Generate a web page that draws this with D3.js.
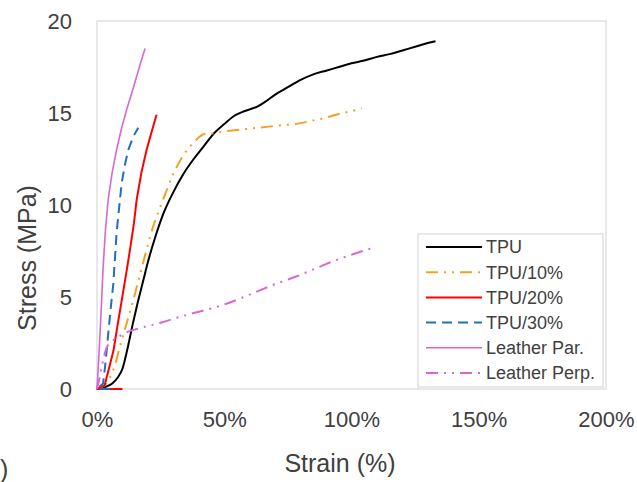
<!DOCTYPE html>
<html>
<head>
<meta charset="utf-8">
<script src="https://cdn.jsdelivr.net/npm/d3@7"></script>
<style>
  html, body { margin: 0; padding: 0; background: #fff; }
  svg { display: block; }
  text { font-family: "Liberation Sans", Arial, sans-serif; fill: #404040; }
</style>
</head>
<body>
<svg id="chart" width="637" height="482"></svg>
<script>
// ---- data (strain %, stress MPa) ----
const seriesNames = ["TPU", "TPU/10%", "TPU/20%", "TPU/30%", "Leather Par.", "Leather Perp."];

const tpuStrain   = [0, 3, 6, 8, 10, 12, 14, 16, 18, 20, 23, 26, 30, 34, 38, 42, 46, 50, 54, 57, 60, 63, 66, 70, 75, 80, 85, 90, 95, 100, 105, 110, 115, 120, 125, 130, 133];
const tpuStress   = [0, 0.1, 0.3, 0.6, 1.1, 2.2, 3.5, 4.7, 5.8, 6.9, 8.3, 9.5, 10.7, 11.7, 12.5, 13.2, 13.9, 14.4, 14.85, 15.05, 15.2, 15.35, 15.6, 16.0, 16.4, 16.8, 17.1, 17.3, 17.5, 17.7, 17.85, 18.05, 18.2, 18.4, 18.6, 18.8, 18.9];

const tpu10Strain = [0, 3, 6, 10, 14, 18, 22, 26, 30, 34, 38, 42, 46, 50, 60, 70, 80, 85, 90, 95, 100, 104];
const tpu10Stress = [0, 0.2, 0.9, 2.8, 4.7, 6.8, 8.8, 10.3, 11.7, 12.7, 13.4, 13.85, 13.9, 14.0, 14.15, 14.3, 14.45, 14.6, 14.75, 14.95, 15.1, 15.25];

const tpu20Strain = [10, 0, 3, 4.5, 6.5, 8, 9.7, 11.5, 13, 14.5, 15.6, 17.5, 19.5, 21.5, 23.4];
const tpu20Stress = [0, 0, 0.2, 1.0, 2.1, 3.4, 4.8, 6.3, 7.6, 9.0, 10.3, 11.8, 13.0, 14.0, 14.9];

const tpu30Strain = [5, 0, 2.4, 3.4, 4.4, 5.4, 6.4, 7.7, 9.7, 11, 12.3, 14.2, 16.2];
const tpu30Stress = [0, 0, 0.3, 1.5, 3.0, 4.4, 5.7, 8.5, 11.2, 12.2, 13.0, 13.7, 14.2];

const parStrain   = [0, 0.5, 1.2, 2.4, 3.3, 4.4, 6, 7.7, 9.7, 11.7, 13.7, 15.6, 17.3, 18.9];
const parStress   = [0, 1.2, 3.0, 6.6, 8.6, 10.3, 11.8, 13.0, 14.2, 15.2, 16.1, 17.0, 17.8, 18.5];

const perpStrain  = [0, 1, 2, 3, 4, 6, 8, 12, 18, 25, 32, 40, 48, 55, 62, 70, 78, 85, 92, 100, 108];
const perpStress  = [0, 0.6, 1.3, 1.9, 2.3, 2.6, 2.8, 3.1, 3.35, 3.6, 3.9, 4.2, 4.5, 4.85, 5.25, 5.7, 6.1, 6.5, 6.9, 7.3, 7.65];

const xTicks = [0, 50, 100, 150, 200];
const yTicks = [0, 5, 10, 15, 20];

// ---- styles ----
const styles = [
  { color: "#000000", width: 2,   dash: null },
  { color: "#F5A020", width: 2,   dash: "12,6,2,6,2,6" },
  { color: "#FF0000", width: 2,   dash: null },
  { color: "#1F6FC0", width: 2,   dash: "10,6" },
  { color: "#D867D4", width: 1.6, dash: null },
  { color: "#D867D4", width: 2,   dash: "12,6,2,6,2,6" }
];

const raw = [
  [tpuStrain, tpuStress], [tpu10Strain, tpu10Stress], [tpu20Strain, tpu20Stress],
  [tpu30Strain, tpu30Stress], [parStrain, parStress], [perpStrain, perpStress]
];
const series = raw.map((r, i) => ({
  name: seriesNames[i],
  pts: r[0].map((x, j) => [x, r[1][j]]),
  style: styles[i]
}));

// ---- layout ----
const svg = d3.select("#chart");
const L = 97, R = 606, T = 21, B = 389;

const x = d3.scaleLinear().domain([0, 200]).range([L, R]);
const y = d3.scaleLinear().domain([0, 20]).range([B, T]);

// plot border
svg.append("rect")
  .attr("x", L).attr("y", T).attr("width", R - L).attr("height", B - T)
  .attr("fill", "none").attr("stroke", "#D9D9D9").attr("stroke-width", 1.2);

// axes
const xAxis = svg.append("g").attr("transform", `translate(0,${B})`)
  .call(d3.axisBottom(x).tickValues(xTicks).tickSize(0).tickPadding(22).tickFormat(d => d + "%"));
const yAxis = svg.append("g").attr("transform", `translate(${L},0)`)
  .call(d3.axisLeft(y).tickValues(yTicks).tickSize(0).tickPadding(25).tickFormat(d3.format("d")));
[xAxis, yAxis].forEach(g => {
  g.select(".domain").remove();
  g.selectAll("text").style("font-size", "22px").attr("fill", "#404040")
    .style("font-family", "'Liberation Sans', Arial, sans-serif");
});

// lines
const line = d3.line().x(d => x(d[0])).y(d => y(d[1])).curve(d3.curveMonotoneX);
const lineRaw = d3.line().x(d => x(d[0])).y(d => y(d[1]));
svg.append("g").selectAll("path").data(series).join("path")
  .attr("d", (d, i) => (i === 0 || i === 1 || i === 5) ? line(d.pts) : lineRaw(d.pts))
  .attr("fill", "none")
  .attr("stroke", d => d.style.color)
  .attr("stroke-width", d => d.style.width)
  .attr("stroke-dasharray", d => d.style.dash)
  .attr("stroke-linejoin", "round");

// axis titles
svg.append("text").attr("x", 340).attr("y", 472).attr("text-anchor", "middle")
  .style("font-size", "25px").text("Strain (%)");
svg.append("text").attr("transform", "translate(36,258) rotate(-90)").attr("text-anchor", "middle")
  .style("font-size", "25px").text("Stress (MPa)");

// cropped panel label remnant
svg.append("text").attr("x", 0).attr("y", 478)
  .style("font-size", "25px").text(")");

// legend
const lg = svg.append("g");
lg.append("rect").attr("x", 418).attr("y", 234).attr("width", 185).attr("height", 153)
  .attr("fill", "#fff").attr("stroke", "#D9D9D9").attr("stroke-width", 1.2);
const items = lg.selectAll("g.item").data(series).join("g")
  .attr("transform", (d, i) => `translate(0,${247 + i * 25.2})`);
items.append("line").attr("x1", 426).attr("x2", 482).attr("y1", 0).attr("y2", 0)
  .attr("stroke", d => d.style.color)
  .attr("stroke-width", d => d.style.width)
  .attr("stroke-dasharray", d => d.style.dash);
items.append("text").attr("x", 486).attr("y", 0).attr("dy", "0.35em")
  .style("font-size", "18px").attr("fill", "#262626").text(d => d.name);
</script>
</body>
</html>
